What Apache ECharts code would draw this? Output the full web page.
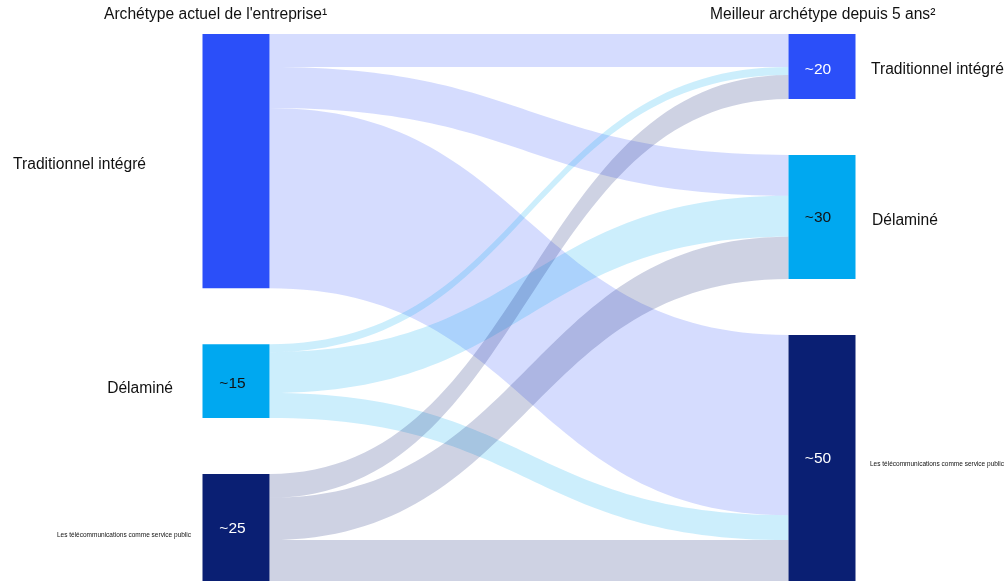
<!DOCTYPE html>
<html>
<head>
<meta charset="utf-8">
<script src="https://cdn.jsdelivr.net/npm/echarts@6/dist/echarts.min.js"></script>
<style>
html,body{margin:0;padding:0;background:#fff;}
#chart{width:1007px;height:582px;}
</style>
</head>
<body>
<div id="chart"></div>
<script>
// ---- data ----
const archetypes = ['Traditionnel intégré', 'Délaminé', 'Les télécommunications comme service public'];
const leftValueLabels = ['', '~15', '~25'];
const rightValueLabels = ['~20', '~30', '~50'];
// flows[source][target] (share of companies, %)
const flowsFromTraditionnel = [7.6, 9.4, 41.4];
const flowsFromDelamine = [1.8, 9.4, 5.7];
const flowsFromTelecom = [5.5, 9.7, 9.4];
const headerLeft = "Archétype actuel de l'entreprise¹";
const headerRight = 'Meilleur archétype depuis 5 ans²';

// ---- style ----
const FONT = "'Liberation Sans', Arial, sans-serif";
const nodeColors = ['#2b4ff9', '#00a8f0', '#0a1f73'];
const insideTextColors = ['#ffffff', '#111111', '#ffffff'];
const nameFont = [15.6, 15.6, 6.5];
const leftDist = [56.5, 29.5, 11.5];
const leftDy = [4, 8, 8];
const rightDist = [15.5, 16.5, 14.5];
const rightDy = [3, 3.5, 6.5];
const leftInDy = [0, 3, 1];
const rightInDy = [3, 0.5, 0.5];

const flows = [flowsFromTraditionnel, flowsFromDelamine, flowsFromTelecom];
const idL = i => 'L' + i;
const idR = i => 'R' + i;

function buildLinks() {
  const links = [];
  flows.forEach((row, s) => row.forEach((v, t) => {
    links.push({ source: idL(s), target: idR(t), value: v });
  }));
  return links;
}

const outerNodes = [];
const innerNodes = [];
archetypes.forEach((name, i) => {
  outerNodes.push({
    name: idL(i), depth: 0,
    itemStyle: { color: nodeColors[i] },
    label: { position: 'left', distance: leftDist[i], offset: [0, leftDy[i]], formatter: name, fontSize: nameFont[i] }
  });
  innerNodes.push({
    name: idL(i), depth: 0,
    label: { position: 'inside', offset: [-3.5, leftInDy[i]], formatter: leftValueLabels[i], color: insideTextColors[i] }
  });
});
archetypes.forEach((name, i) => {
  outerNodes.push({
    name: idR(i), depth: 1,
    itemStyle: { color: nodeColors[i] },
    label: { position: 'right', distance: rightDist[i], offset: [0, rightDy[i]], formatter: name, fontSize: nameFont[i] }
  });
  innerNodes.push({
    name: idR(i), depth: 1,
    label: { position: 'inside', offset: [-4, rightInDy[i]], formatter: rightValueLabels[i], color: insideTextColors[i] }
  });
});

const common = {
  type: 'sankey',
  left: 202.5, right: 151.5, top: 34, bottom: 1,
  nodeWidth: 67, nodeGap: 56,
  layoutIterations: 0,
  nodeAlign: 'justify',
  draggable: false,
  emphasis: { disabled: true },
  links: buildLinks()
};

const chart = echarts.init(document.getElementById('chart'), null, { renderer: 'canvas' });
chart.setOption({
  animation: false,
  textStyle: { fontFamily: FONT },
  title: [
    { text: headerLeft, left: 104, top: 7, padding: 0,
      textStyle: { fontSize: 15.6, fontWeight: 'normal', color: '#111', fontFamily: FONT } },
    { text: headerRight, left: 710, top: 7, padding: 0,
      textStyle: { fontSize: 15.6, fontWeight: 'normal', color: '#111', fontFamily: FONT } }
  ],
  series: [
    Object.assign({}, common, {
      data: outerNodes,
      itemStyle: { borderWidth: 0 },
      lineStyle: { color: 'source', opacity: 0.2, curveness: 0.5 },
      label: { color: '#111', fontFamily: FONT, fontSize: 15.6 }
    }),
    Object.assign({}, common, {
      silent: true,
      data: innerNodes,
      itemStyle: { color: 'rgba(0,0,0,0)', borderWidth: 0 },
      lineStyle: { color: 'rgba(0,0,0,0)', opacity: 0 },
      label: { fontFamily: FONT, fontSize: 15.5 }
    })
  ]
});
</script>
</body>
</html>
